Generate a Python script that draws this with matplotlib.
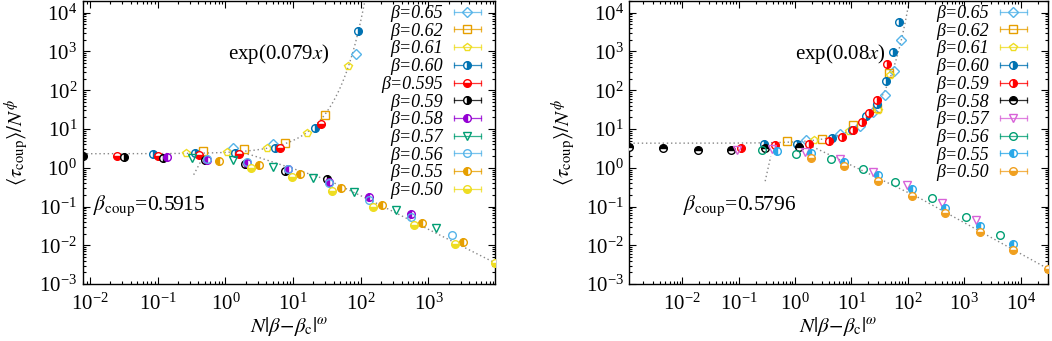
import numpy as np
import matplotlib
matplotlib.use("Agg")
import matplotlib.pyplot as plt
from matplotlib.lines import Line2D
from matplotlib.legend_handler import HandlerLine2D

plt.rcParams["font.family"] = ["Liberation Serif", "DejaVu Serif"]
plt.rcParams["mathtext.fontset"] = "stix"
plt.rcParams["font.size"] = 15

# =========================================================
# DATA
# =========================================================

# ---- left panel ----
left_labels = ["β=0.65", "β=0.62", "β=0.61", "β=0.60", "β=0.595", "β=0.59",
               "β=0.58", "β=0.57", "β=0.56", "β=0.55", "β=0.50"]

left_x = [
    [1.30, 5.08, 85],
    [0.47, 1.90, 7.57, 29.5],
    [0.26, 1.04, 4.06, 16.2, 65],
    [0.086, 0.354, 1.38, 5.4, 21, 90],
    [0.0247, 0.1016, 0.41, 1.6, 6.38, 25.5],
    [0.0079, 0.0317, 0.12, 0.50, 1.94, 7.57, 31.2],
    [0.135, 0.54, 2.1, 8.5, 33.8, 132, 544],
    [0.316, 1.28, 5.08, 19.8, 80, 327, 1270],
    [0.54, 2.1, 8.5, 33.8, 132, 544, 2190],
    [0.80, 3.16, 12.6, 50.3, 203, 807, 3260],
    [2.36, 9.7, 37.8, 152, 608, 2455, 9670],
]
left_y = [
    [3.14, 4.05, 860],
    [2.73, 3.0, 4.38, 22.4],
    [2.34, 2.57, 3.14, 8.1, 430],
    [2.24, 2.34, 2.34, 3.14, 10.8, 3400],
    [2.03, 2.03, 2.12, 2.2, 3.14, 13.7],
    [2.03, 1.91, 1.77, 1.57, 1.24, 0.84, 0.51],
    [1.91, 1.6, 1.35, 0.91, 0.44, 0.174, 0.065],
    [1.74, 1.57, 1.06, 0.55, 0.234, 0.082, 0.0279],
    [1.65, 1.40, 0.95, 0.40, 0.15, 0.055, 0.018],
    [1.49, 1.15, 0.68, 0.30, 0.111, 0.0375, 0.0122],
    [1.0, 0.59, 0.257, 0.096, 0.0326, 0.0108, 0.0035],
]
left_xticks = [1e-2, 1e-1, 1e0, 1e1, 1e2, 1e3]

# ---- right panel ----
right_labels = ["β=0.65", "β=0.62", "β=0.61", "β=0.60", "β=0.59", "β=0.58",
                "β=0.57", "β=0.56", "β=0.55", "β=0.50"]

right_x = [
    [1.57, 6.3, 14, 24.4, 39.4, 57, 75],
    [0.73, 2.97, 10.8, 28, 47],
    [2.2, 9.0, 30, 49],
    [0.286, 1.1, 4.6, 10.1, 17.9, 28, 40.5, 55.3, 70.8],
    [0.109, 0.44, 1.76, 4.0, 6.9, 10.8, 15.6, 20.8, 28, 43.4],
    [0.00115, 0.00462, 0.0188, 0.0733, 0.294, 1.19],
    [0.095, 0.386, 1.5, 6.3, 24.4, 95.5, 400, 1590],
    [0.263, 1.03, 4.3, 16.3, 60, 265, 1060, 4310],
    [0.473, 1.92, 7.3, 30, 117, 455, 1900, 7400],
    [1.92, 7.3, 30, 117, 455, 1900, 7400, 30200],
]
right_y = [
    [5.33, 7.6, 12, 27, 77, 320, 1950],
    [4.9, 5.67, 12.4, 35, 273],
    [5.3, 8.8, 30, 250],
    [4.05, 4.05, 6.0, 9.7, 21.2, 45, 177, 944, 5880],
    [3.33, 3.8, 4.2, 4.92, 6.2, 9.2, 15.1, 25.7, 56.6, 474],
    [3.46, 3.14, 2.84, 2.84, 3.14, 3.46],
    [2.9, 3.0, 2.48, 1.64, 0.79, 0.36, 0.122, 0.046],
    [2.84, 2.24, 1.67, 0.93, 0.44, 0.164, 0.055, 0.018],
    [2.73, 2.34, 1.37, 0.65, 0.28, 0.091, 0.032, 0.0108],
    [1.74, 1.12, 0.46, 0.188, 0.068, 0.022, 0.0074, 0.0025],
]
right_xticks = [1e-2, 1e-1, 1e0, 1e1, 1e2, 1e3, 1e4]

yticks = [1e-3, 1e-2, 1e-1, 1e0, 1e1, 1e2, 1e3, 1e4]

# guide curves
left_exp_amp, left_exp_rate = 2.3, 0.079
right_exp_amp, right_exp_rate = 4.3, 0.08

left_low_x = [1.85, 2.44, 33, 192, 9670]
left_low_y = [2.35, 2.12, 0.48, 0.11, 0.0035]
left_kink_x = [0.34, 0.47]
left_kink_y = [0.66, 1.9]

right_low_x = [1.75, 163, 30200]
right_low_y = [3.9, 0.164, 0.0025]
right_kink_x = [0.295, 0.37]
right_kink_y = [0.45, 1.95]

# =========================================================
# STYLES
# =========================================================

SKY = "#56B4E9"
ORANGE = "#E69F00"
YELLOW = "#EEDD22"
BLUE = "#0072B2"
RED = "#FF0000"
PURPLE = "#9400D3"
GREEN = "#009E73"
PINK = "#D862D8"

left_styles = [
    (SKY, "D", "none"), (ORANGE, "s", "none"), (YELLOW, "p", "none"),
    (BLUE, "o", "right"), (RED, "o", "bottom"), ("black", "o", "right"),
    (PURPLE, "o", "left"), (GREEN, "v", "none"), (SKY, "o", "none"),
    (ORANGE, "o", "left"), (YELLOW, "o", "bottom"),
]
right_styles = [
    (SKY, "D", "none"), (ORANGE, "s", "none"), (YELLOW, "p", "none"),
    (BLUE, "o", "right"), (RED, "o", "right"), ("black", "o", "top"),
    (PINK, "v", "none"), (GREEN, "o", "none"), ("#2AA8E8", "o", "left"),
    ("#F0A020", "o", "bottom"),
]

MS = 5.5
FS = 15
LEG_FS = 13

# =========================================================
# FIGURE
# =========================================================

fig = plt.figure(figsize=(10.52, 3.41), dpi=100)
ax1 = fig.add_axes([0.0786, 0.167, 0.3922, 0.831])
ax2 = fig.add_axes([0.5982, 0.167, 0.3977, 0.831])


def draw_panel(ax, xs, ys, labels, styles, xlim, xticks, amp, rate,
               low_x, low_y, kink_x, kink_y, exp_text, exp_pos,
               bcoup_text, bcoup_pos, leg_anchor):
    ax.set_xscale("log")
    ax.set_yscale("log")
    ax.set_xlim(*xlim)
    ax.set_ylim(1e-3, 10 ** 4.31)

    # guide lines
    xc = np.logspace(np.log10(xlim[0]), np.log10(np.log(2.1e4 / amp) / rate), 400)
    guide = dict(color="#888888", lw=1.0, ls=(0, (1, 2)), zorder=1)
    ax.plot(xc, amp * np.exp(rate * xc), **guide)
    ax.plot(low_x, low_y, **guide)
    ax.plot(kink_x, kink_y, **guide)

    handles = []
    hmap = {}
    for x, y, lab, (c, m, fs) in zip(xs, ys, labels, styles):
        kw = dict(marker=m, color=c, ms=MS, mew=1.0, ls="none",
                  fillstyle=fs, markerfacecoloralt="white")
        if fs == "none":
            kw["markerfacecolor"] = "none"
        ax.plot(x, y, zorder=3, **kw)
        cap = Line2D([], [], color=c, lw=0.9, marker="|", ms=5, mew=0.9, alpha=0.8)
        mk = Line2D([], [], **kw)
        hmap[cap] = HandlerLine2D(numpoints=2, marker_pad=0)
        handles.append((cap, mk))

    ax.legend(handles, labels, handler_map=hmap, loc="upper right",
              bbox_to_anchor=leg_anchor, markerfirst=False, frameon=False,
              numpoints=1, handlelength=1.5, handletextpad=0.6,
              labelspacing=0.04, borderpad=0, borderaxespad=0,
              prop=dict(family="Liberation Serif", style="italic", size=LEG_FS))

    ax.text(exp_pos[0], exp_pos[1], exp_text, transform=ax.transAxes,
            fontsize=FS, va="center", ha="left")
    ax.text(bcoup_pos[0], bcoup_pos[1], bcoup_text, transform=ax.transAxes,
            fontsize=FS + 0.5, va="center", ha="left")

    ax.set_xticks(xticks)
    ax.set_yticks(yticks)
    ax.set_xlim(*xlim)
    ax.set_ylim(1e-3, 10 ** 4.31)
    ax.tick_params(which="both", direction="in", top=True, right=True,
                   labelsize=FS, width=0.8)
    ax.tick_params(axis="x", which="both", pad=7)
    ax.tick_params(axis="y", which="both", pad=4)
    ax.tick_params(which="major", length=5)
    ax.tick_params(which="minor", length=2.5)
    ax.yaxis.set_minor_locator(matplotlib.ticker.LogLocator(base=10, subs=np.arange(2, 10), numticks=20))
    ax.xaxis.set_minor_locator(matplotlib.ticker.LogLocator(base=10, subs=np.arange(2, 10), numticks=20))
    ax.yaxis.set_minor_formatter(matplotlib.ticker.NullFormatter())
    ax.xaxis.set_minor_formatter(matplotlib.ticker.NullFormatter())
    for s in ax.spines.values():
        s.set_linewidth(1.0)

    ax.set_xlabel(r"$N|\beta\!-\!\beta_{\rm c}|^{\omega}$", fontsize=FS)
    ax.set_ylabel(r"$\langle\tau_{\rm coup}\rangle/N^{\phi}$", fontsize=FS)


draw_panel(ax1, left_x, left_y, left_labels, left_styles, (0.0078, 9700),
           left_xticks, left_exp_amp, left_exp_rate, left_low_x, left_low_y,
           left_kink_x, left_kink_y,
           r"exp(0.079$x$)", (0.352, 0.813),
           r"$\beta_{\rm coup}$=0.5915", (0.025, 0.278),
           (0.965, 0.985))

draw_panel(ax2, right_x, right_y, right_labels, right_styles, (0.00115, 30200),
           right_xticks, right_exp_amp, right_exp_rate, right_low_x, right_low_y,
           right_kink_x, right_kink_y,
           r"exp(0.08$x$)", (0.395, 0.813),
           r"$\beta_{\rm coup}$=0.5796", (0.128, 0.278),
           (0.95, 0.985))

ax1.yaxis.set_label_coords(-0.125, 0.5)
ax2.yaxis.set_label_coords(-0.122, 0.5)
ax1.xaxis.set_label_coords(0.5, -0.11)
ax2.xaxis.set_label_coords(0.5, -0.11)

fig.savefig("out.png", dpi=100)
